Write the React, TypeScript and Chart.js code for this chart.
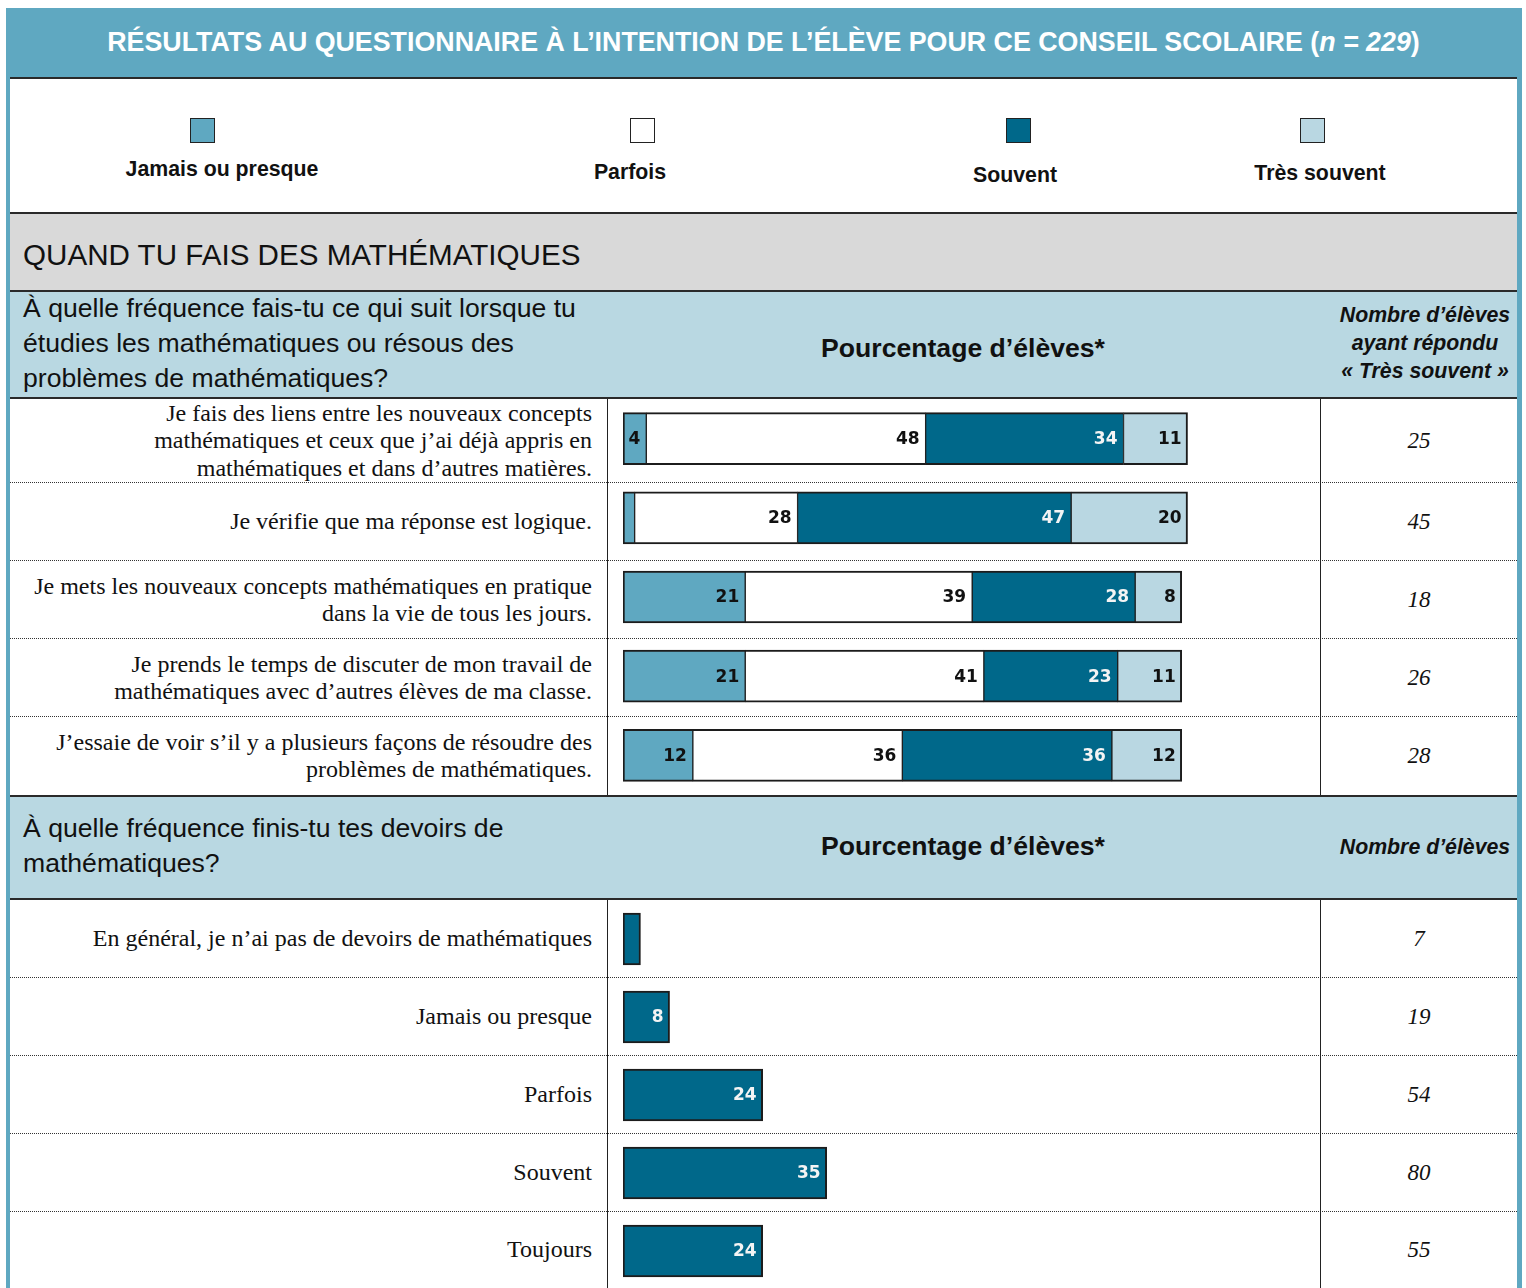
import React, { useEffect, useRef } from "react";
import { Chart, registerables } from "chart.js";

Chart.register(...registerables);

// ---------- Data ----------
const seriesNames = ["Jamais ou presque", "Parfois", "Souvent", "Très souvent"];
const seriesColors = ["#5fa8c1", "#ffffff", "#00688a", "#b9d7e2"];
const seriesLabelColors = ["#111111", "#111111", "#f4f4f4", "#111111"];

const q1Items = [
  "Je fais des liens entre les nouveaux concepts\nmathématiques et ceux que j’ai déjà appris en\nmathématiques et dans d’autres matières.",
  "Je vérifie que ma réponse est logique.",
  "Je mets les nouveaux concepts mathématiques en pratique\ndans la vie de tous les jours.",
  "Je prends le temps de discuter de mon travail de\nmathématiques avec d’autres élèves de ma classe.",
  "J’essaie de voir s’il y a plusieurs façons de résoudre des\nproblèmes de mathématiques.",
];
const q1Jamais = [4, 2, 21, 21, 12];
const q1Parfois = [48, 28, 39, 41, 36];
const q1Souvent = [34, 47, 28, 23, 36];
const q1TresSouvent = [11, 20, 8, 11, 12];
const q1Counts = [25, 45, 18, 26, 28];

const q2Items = [
  "En général, je n’ai pas de devoirs de mathématiques",
  "Jamais ou presque",
  "Parfois",
  "Souvent",
  "Toujours",
];
const q2Values = [3, 8, 24, 35, 24];
const q2Counts = [7, 19, 54, 80, 55];

// ---------- Styles ----------
const SANS = '"Liberation Sans", Arial, sans-serif';
const SERIF = '"Liberation Serif", "Times New Roman", serif';
const TEAL = "#5fa8c1";
const LIGHT = "#b9d8e2";
const GRAY = "#d9d9d9";
const DARK = "#2a2a2a";

const LABEL_MIN = 4;

const valueLabels = {
  id: "valueLabels",
  afterDatasetsDraw(chart: any) {
    const ctx = chart.ctx;
    ctx.save();
    ctx.font = 'bold 17px "DejaVu Sans", Verdana, sans-serif';
    ctx.textAlign = "right";
    ctx.textBaseline = "middle";
    chart.data.datasets.forEach((ds: any, di: number) => {
      const meta = chart.getDatasetMeta(di);
      meta.data.forEach((el: any, i: number) => {
        const v = ds.data[i];
        if (v < LABEL_MIN) return;
        ctx.fillStyle = ds.labelColor;
        ctx.fillText(String(v), el.x - 6, el.y + 1);
      });
    });
    ctx.restore();
  },
};

function BarChart(props: {
  left: number;
  top: number;
  width: number;
  height: number;
  labels: string[];
  datasets: any[];
}) {
  const ref = useRef<HTMLCanvasElement>(null);
  useEffect(() => {
    const chart = new Chart(ref.current as HTMLCanvasElement, {
      type: "bar",
      data: { labels: props.labels, datasets: props.datasets },
      options: {
        indexAxis: "y",
        animation: false,
        responsive: false,
        maintainAspectRatio: false,
        layout: { padding: { left: 15, right: 115, top: 0, bottom: 0 } },
        plugins: { legend: { display: false }, tooltip: { enabled: false } },
        scales: {
          x: { stacked: true, min: 0, max: 100, display: false },
          y: { stacked: true, display: false },
        },
      } as any,
      plugins: [valueLabels as any],
    });
    return () => chart.destroy();
  }, []);
  return (
    <canvas
      ref={ref}
      width={props.width}
      height={props.height}
      style={{ position: "absolute", left: props.left, top: props.top, width: props.width, height: props.height }}
    />
  );
}

function Box(props: { x: number; y: number; w: number; h: number; style?: any; children?: any }) {
  return (
    <div
      style={{
        position: "absolute",
        left: props.x,
        top: props.y,
        width: props.w,
        height: props.h,
        boxSizing: "border-box",
        ...(props.style || {}),
      }}
    >
      {props.children}
    </div>
  );
}

function Rows(props: { top: number; heights: number[]; items: string[]; counts: number[] }) {
  const out: any[] = [];
  let y = props.top;
  props.heights.forEach((h, i) => {
    out.push(
      <Box
        key={"l" + i}
        x={10}
        y={y}
        w={582}
        h={h}
        style={{
          display: "flex",
          alignItems: "center",
          justifyContent: "flex-end",
          textAlign: "right",
          whiteSpace: "pre-line",
          fontFamily: SERIF,
          fontSize: 24,
          lineHeight: "27.5px",
          color: "#111",
        }}
      >
        {props.items[i]}
      </Box>
    );
    out.push(
      <Box
        key={"c" + i}
        x={1321}
        y={y}
        w={196}
        h={h}
        style={{
          display: "flex",
          alignItems: "center",
          justifyContent: "center",
          fontFamily: SERIF,
          fontStyle: "italic",
          fontSize: 23,
          color: "#111",
        }}
      >
        {String(props.counts[i])}
      </Box>
    );
    y += h;
    if (i < props.heights.length - 1) {
      out.push(
        <Box key={"d" + i} x={10} y={y - 1} w={1507} h={1} style={{ borderTop: "1px dotted #333" }} />
      );
    }
  });
  const total = props.heights.reduce((a, b) => a + b, 0);
  out.push(<Box key="v1" x={607} y={props.top} w={1} h={total} style={{ background: "#222" }} />);
  out.push(<Box key="v2" x={1320} y={props.top} w={1} h={total} style={{ background: "#222" }} />);
  return <>{out}</>;
}

const legendPos = [
  { bx: 190, lx: 222, ly: 169 },
  { bx: 630, lx: 630, ly: 172 },
  { bx: 1006, lx: 1015, ly: 175 },
  { bx: 1300, lx: 1320, ly: 173 },
];

export default function App() {
  const q1Sets = [q1Jamais, q1Parfois, q1Souvent, q1TresSouvent].map((data, i) => ({
    label: seriesNames[i],
    data,
    backgroundColor: seriesColors[i],
    borderColor: "#1c1c1c",
    borderWidth: { top: 2, bottom: 2, left: i === 0 ? 2 : 1, right: i === 3 ? 2 : 1 },
    borderSkipped: false,
    barThickness: 52,
    labelColor: seriesLabelColors[i],
  }));
  const q2Sets = [
    {
      label: "Pourcentage",
      data: q2Values,
      backgroundColor: seriesColors[2],
      borderColor: "#1c1c1c",
      borderWidth: 2,
      borderSkipped: false,
      barThickness: 52,
      labelColor: seriesLabelColors[2],
    },
  ];

  const q1Heights = [84, 78, 78, 78, 78];
  const q2Heights = [78, 78, 78, 78, 76];

  return (
    <div style={{ position: "absolute", left: 0, top: 0, width: 1526, height: 1288, overflow: "hidden", background: "#fff" }}>
      {/* frame */}
      <Box x={6} y={8} w={1516} h={1290} style={{ background: TEAL }} />
      <Box x={10} y={79} w={1507} h={1215} style={{ background: "#fff" }} />
      {/* title */}
      <Box
        x={10}
        y={8}
        w={1507}
        h={69}
        style={{
          display: "flex",
          alignItems: "center",
          justifyContent: "center",
          color: "#fff",
          fontFamily: SANS,
          fontWeight: "bold",
          fontSize: 26.8,
        }}
      >
        <span>
          RÉSULTATS AU QUESTIONNAIRE À L’INTENTION DE L’ÉLÈVE POUR CE CONSEIL SCOLAIRE (<i>n = 229</i>)
        </span>
      </Box>
      <Box x={10} y={77} w={1507} h={2} style={{ background: DARK }} />
      {/* legend */}
      {seriesNames.map((name, i) => (
        <React.Fragment key={name}>
          <Box
            x={legendPos[i].bx}
            y={118}
            w={25}
            h={25}
            style={{ background: seriesColors[i], border: "1.5px solid #222" }}
          />
          <Box
            x={legendPos[i].lx - 150}
            y={legendPos[i].ly - 14}
            w={300}
            h={28}
            style={{
              textAlign: "center",
              fontFamily: SANS,
              fontWeight: "bold",
              fontSize: 21.3,
              lineHeight: "28px",
              color: "#111",
            }}
          >
            {name}
          </Box>
        </React.Fragment>
      ))}
      <Box x={10} y={212} w={1507} h={2} style={{ background: DARK }} />
      {/* gray section */}
      <Box
        x={10}
        y={214}
        w={1507}
        h={77}
        style={{
          background: GRAY,
          display: "flex",
          alignItems: "center",
          paddingLeft: 13,
          paddingTop: 4,
          fontFamily: SANS,
          fontSize: 29.6,
          color: "#111",
        }}
      >
        QUAND TU FAIS DES MATHÉMATIQUES
      </Box>
      <Box x={10} y={290} w={1507} h={2} style={{ background: DARK }} />
      {/* header 1 */}
      <Box x={10} y={292} w={1507} h={106} style={{ background: LIGHT }} />
      <Box
        x={23}
        y={291}
        w={620}
        h={106}
        style={{ fontFamily: SANS, fontSize: 26.6, lineHeight: "35px", color: "#111", whiteSpace: "nowrap" }}
      >
        À quelle fréquence fais-tu ce qui suit lorsque tu
        <br />
        étudies les mathématiques ou résous des
        <br />
        problèmes de mathématiques?
      </Box>
      <Box
        x={713}
        y={331}
        w={500}
        h={34}
        style={{ textAlign: "center", fontFamily: SANS, fontWeight: "bold", fontSize: 26.6, lineHeight: "34px", color: "#111" }}
      >
        Pourcentage d’élèves*
      </Box>
      <Box
        x={1322}
        y={301}
        w={206}
        h={84}
        style={{
          textAlign: "center",
          fontFamily: SANS,
          fontWeight: "bold",
          fontStyle: "italic",
          fontSize: 21.3,
          lineHeight: "28px",
          color: "#111",
          whiteSpace: "nowrap",
        }}
      >
        Nombre d’élèves
        <br />
        ayant répondu
        <br />« Très souvent »
      </Box>
      <Box x={10} y={397} w={1507} h={2} style={{ background: DARK }} />
      <Rows top={399} heights={q1Heights} items={q1Items} counts={q1Counts} />
      <BarChart left={608} top={399} width={712} height={396} labels={q1Items} datasets={q1Sets} />
      <Box x={10} y={795} w={1507} h={2} style={{ background: DARK }} />
      {/* header 2 */}
      <Box x={10} y={797} w={1507} h={101} style={{ background: LIGHT }} />
      <Box
        x={23}
        y={811}
        w={620}
        h={72}
        style={{ fontFamily: SANS, fontSize: 26.6, lineHeight: "35px", color: "#111", whiteSpace: "nowrap" }}
      >
        À quelle fréquence finis-tu tes devoirs de
        <br />
        mathématiques?
      </Box>
      <Box
        x={713}
        y={829}
        w={500}
        h={34}
        style={{ textAlign: "center", fontFamily: SANS, fontWeight: "bold", fontSize: 26.6, lineHeight: "34px", color: "#111" }}
      >
        Pourcentage d’élèves*
      </Box>
      <Box
        x={1322}
        y={833}
        w={206}
        h={28}
        style={{
          textAlign: "center",
          fontFamily: SANS,
          fontWeight: "bold",
          fontStyle: "italic",
          fontSize: 21.3,
          lineHeight: "28px",
          color: "#111",
          whiteSpace: "nowrap",
        }}
      >
        Nombre d’élèves
      </Box>
      <Box x={10} y={898} w={1507} h={2} style={{ background: DARK }} />
      <Rows top={900} heights={q2Heights} items={q2Items} counts={q2Counts} />
      <BarChart left={608} top={900} width={712} height={390} labels={q2Items} datasets={q2Sets} />
    </div>
  );
}
